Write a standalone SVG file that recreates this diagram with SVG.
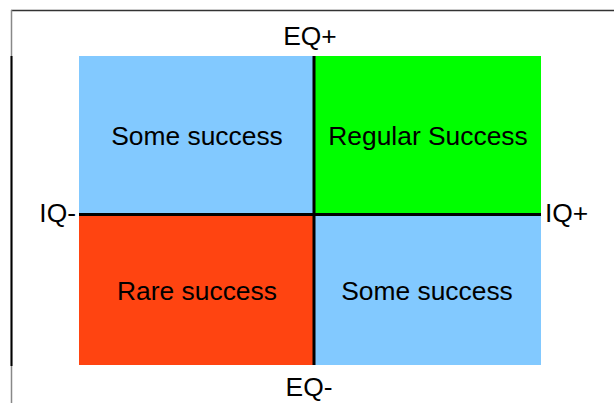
<svg xmlns="http://www.w3.org/2000/svg" width="614" height="403" viewBox="0 0 614 403">
<style>
text{font-family:"Liberation Sans",Arial,sans-serif;font-size:26.4px;fill:#000;text-anchor:middle}
.q{stroke:none}
.div{stroke:#000;stroke-width:3;fill:none}
</style>
<rect width="614" height="403" fill="#fff"/>
<g id="frame">
<line x1="11" y1="10.5" x2="614" y2="10.5" stroke="#333" stroke-width="1.5"/>
<line x1="11.5" y1="10" x2="11.5" y2="403" stroke="#888" stroke-width="1.5"/>
<line x1="11.5" y1="56" x2="11.5" y2="366" stroke="#000" stroke-width="2"/>
</g>
<g id="q-top-left"><rect class="q" x="79" y="56" width="236" height="158" fill="#82C9FF"/><text x="197" y="145">Some success</text></g>
<g id="q-top-right"><rect class="q" x="315" y="56" width="226" height="158" fill="#00FF00"/><text x="428" y="145">Regular Success</text></g>
<g id="q-bottom-left"><rect class="q" x="79" y="214" width="236" height="151" fill="#FF4411"/><text x="197" y="300">Rare success</text></g>
<g id="q-bottom-right"><rect class="q" x="315" y="214" width="226" height="151" fill="#82C9FF"/><text x="427" y="300">Some success</text></g>
<g id="connectors">
<line class="div" x1="314" y1="56" x2="314" y2="365"/>
<line class="div" x1="79" y1="214.5" x2="541" y2="214.5"/>
</g>
<g id="label-eq-plus"><text x="310" y="45">EQ+</text></g>
<g id="label-eq-minus"><text x="309" y="396">EQ-</text></g>
<g id="label-iq-minus"><text x="76" y="222" style="text-anchor:end">IQ-</text></g>
<g id="label-iq-plus"><text x="545" y="222" style="text-anchor:start">IQ+</text></g>
</svg>
